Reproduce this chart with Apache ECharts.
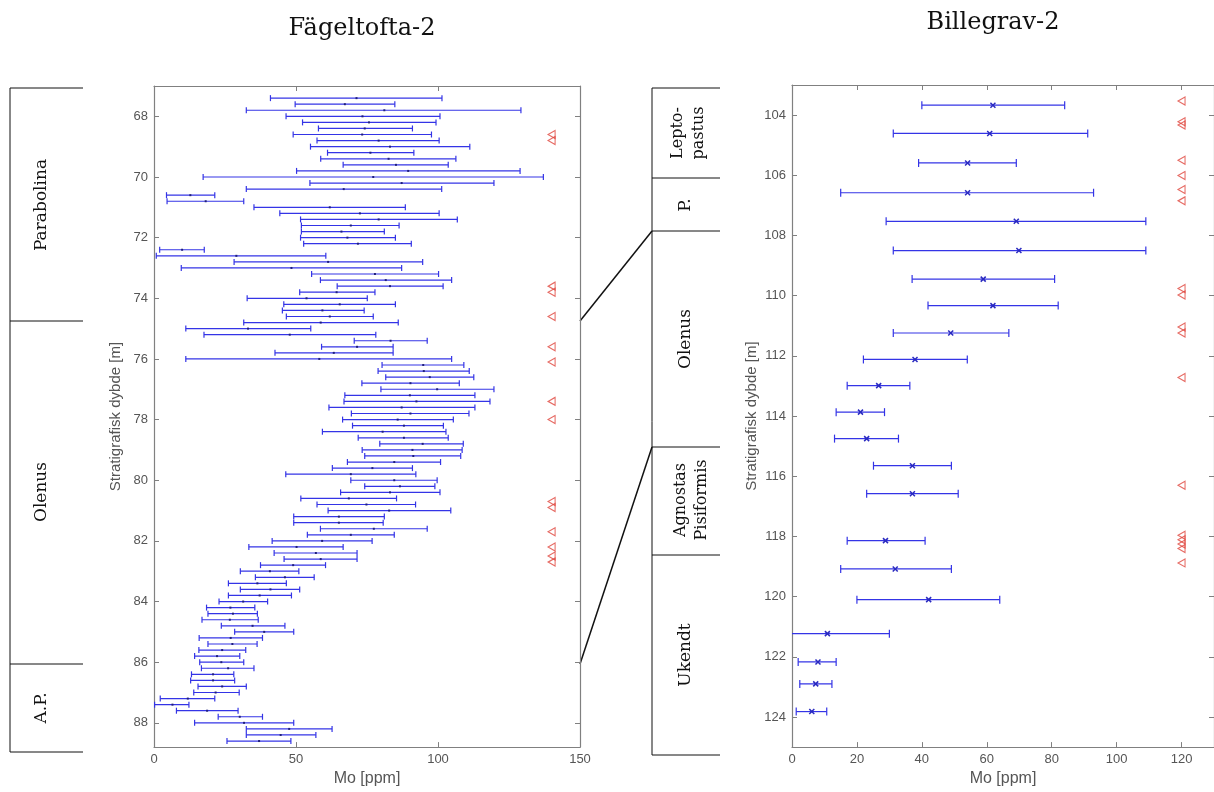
<!DOCTYPE html>
<html>
<head>
<meta charset="utf-8">
<title>Mo profiles</title>
<script src="https://cdn.jsdelivr.net/npm/echarts@6/dist/echarts.min.js"></script>
<style>
html, body { margin: 0; padding: 0; background: #fff; }
#main { width: 1214px; height: 792px; }
</style>
</head>
<body>
<div id="main"></div>
<script>
// Fägeltofta-2: depth [m], Mo low / mid / high [ppm]
var fDepth = [67.4, 67.6, 67.8, 68.0, 68.2, 68.4, 68.6, 68.8, 69.0, 69.2, 69.4, 69.6, 69.8, 70.0, 70.2, 70.4, 70.6, 70.8,
    71.0, 71.2, 71.4, 71.6, 71.8, 72.0, 72.2, 72.4, 72.6, 72.8, 73.0, 73.2, 73.4, 73.6, 73.8, 74.0, 74.2, 74.4, 74.6, 74.8,
    75.0, 75.2, 75.4, 75.6, 75.8, 76.0, 76.2, 76.4, 76.6, 76.8, 77.0, 77.2, 77.4, 77.6, 77.8, 78.0, 78.2, 78.4, 78.6, 78.8,
    79.0, 79.2, 79.4, 79.6, 79.8, 80.0, 80.2, 80.4, 80.6, 80.8, 81.0, 81.2, 81.4, 81.6, 81.8, 82.0, 82.2, 82.4, 82.6, 82.8,
    83.0, 83.2, 83.4, 83.6, 83.8, 84.0, 84.2, 84.4, 84.6, 84.8, 85.0, 85.2, 85.4, 85.6, 85.8, 86.0, 86.2, 86.4, 86.6, 86.8,
    87.0, 87.2, 87.4, 87.6, 87.8, 88.0, 88.2, 88.4, 88.6];
var fLow = [41.0, 49.7, 32.5, 46.5, 52.3, 57.9, 49.0, 57.4, 55.1, 61.1, 58.7, 66.6, 50.2, 17.3, 54.9, 32.5, 4.4, 4.6,
    35.2, 44.3, 51.6, 51.9, 51.9, 51.6, 52.7, 2.0, 0.8, 28.2, 9.6, 55.5, 58.6, 64.5, 51.3, 32.8, 45.7, 45.2, 46.6, 31.6,
    11.2, 17.6, 70.5, 59.0, 42.6, 11.2, 80.3, 78.9, 81.6, 73.2, 79.9, 67.2, 66.9, 61.6, 69.5, 66.4, 69.9, 59.3, 71.9, 79.5,
    73.3, 74.2, 68.1, 62.8, 46.4, 69.3, 74.2, 65.7, 51.7, 57.4, 61.3, 49.2, 49.2, 58.6, 54.0, 41.6, 33.4, 42.3, 45.8, 37.5,
    30.4, 35.7, 26.2, 30.4, 26.2, 22.9, 18.5, 19.0, 16.9, 23.7, 28.4, 15.9, 19.0, 15.8, 14.3, 16.1, 16.7, 13.2, 12.9, 15.5,
    14.0, 2.2, 0.2, 7.9, 22.6, 14.3, 32.5, 32.5, 25.7];
var fMid = [71.3, 67.2, 81.1, 73.4, 75.7, 74.2, 73.3, 79.1, 83.1, 76.2, 82.6, 85.2, 89.5, 77.2, 87.2, 66.8, 12.8, 18.2,
    61.9, 72.5, 79.1, 69.3, 66.0, 68.1, 71.8, 9.9, 29.0, 61.3, 48.4, 77.8, 81.6, 83.1, 64.3, 53.7, 65.4, 59.3, 61.9, 58.7,
    33.1, 47.8, 83.3, 71.5, 63.3, 58.2, 94.8, 95.0, 97.1, 90.3, 99.7, 90.1, 92.4, 87.2, 90.3, 85.8, 88.0, 80.5, 88.0, 94.6,
    91.0, 91.3, 84.6, 76.9, 69.3, 84.6, 86.6, 83.1, 68.6, 74.8, 82.8, 65.1, 65.1, 77.4, 69.3, 59.2, 50.2, 57.0, 58.7, 49.0,
    40.8, 46.1, 36.4, 41.0, 37.2, 31.4, 26.9, 27.8, 26.7, 34.7, 38.8, 27.0, 27.6, 24.0, 22.2, 23.7, 26.1, 20.8, 20.8, 24.0,
    21.7, 11.9, 6.5, 18.7, 30.2, 31.7, 47.6, 44.6, 37.0];
var fHigh = [101.4, 84.8, 129.2, 100.7, 99.3, 91.0, 97.7, 100.4, 111.2, 91.5, 106.3, 103.6, 128.9, 137.1, 119.7, 101.3, 21.4, 31.6,
    88.5, 100.4, 106.8, 86.3, 81.1, 85.0, 90.6, 17.7, 60.5, 94.6, 87.2, 100.2, 104.8, 101.8, 77.8, 75.1, 85.0, 74.0, 77.2, 86.0,
    55.2, 78.1, 96.2, 84.2, 84.2, 104.8, 109.1, 111.0, 112.6, 107.5, 119.7, 113.0, 118.3, 113.0, 110.9, 105.4, 101.9, 102.8, 103.6, 108.9,
    108.5, 108.0, 100.9, 91.0, 92.2, 99.7, 98.9, 100.7, 85.4, 92.1, 104.5, 81.1, 80.7, 96.2, 84.6, 76.8, 66.6, 71.5, 71.5, 60.4,
    51.0, 56.4, 46.6, 51.3, 48.4, 40.0, 35.5, 36.4, 36.7, 46.1, 49.2, 38.2, 36.3, 32.3, 30.2, 31.6, 35.2, 28.1, 28.4, 32.5,
    30.0, 21.4, 12.3, 29.6, 38.2, 49.2, 62.7, 57.0, 48.2];
var fFlagX = 140;
var fFlagDepth = [68.6, 68.8, 73.6, 73.8, 74.6, 75.6, 76.1, 77.4, 78.0, 80.7, 80.9, 81.7, 82.2, 82.5, 82.7];

// Billegrav-2
var bDepth = [103.67, 104.61, 105.59, 106.58, 107.53, 108.50, 109.45, 110.33, 111.24, 112.12, 112.99,
    113.87, 114.75, 115.65, 116.58, 118.14, 119.08, 120.10, 121.23, 122.17, 122.90, 123.82];
var bLow = [40.0, 31.2, 39.0, 15.0, 29.0, 31.2, 37.0, 41.9, 31.2, 22.0, 17.0,
    13.6, 13.1, 25.1, 23.0, 17.0, 15.0, 20.0, -8.0, 1.9, 2.4, 1.3];
var bMid = [61.9, 60.9, 54.1, 54.1, 69.1, 69.9, 58.9, 61.9, 48.9, 37.9, 26.7,
    21.1, 23.0, 37.1, 37.1, 28.8, 31.8, 42.1, 10.9, 8.0, 7.3, 6.1];
var bHigh = [84.0, 91.1, 69.1, 92.9, 109.0, 109.0, 80.9, 82.0, 66.8, 54.0, 36.3,
    28.5, 32.8, 49.1, 51.2, 41.0, 49.1, 64.0, 30.0, 13.6, 12.3, 10.7];
var bFlagX = 120;
var bFlagDepth = [103.53, 104.22, 104.33, 105.50, 106.01, 106.47, 106.85, 109.76, 109.98, 111.04, 111.24,
    112.72, 116.30, 117.96, 118.11, 118.25, 118.40, 118.88];

// tick labels
var fYTicks = [68, 70, 72, 74, 76, 78, 80, 82, 84, 86, 88];
var fXTicks = [0, 50, 100, 150];
var bYTicks = [104, 106, 108, 110, 112, 114, 116, 118, 120, 122, 124];
var bXTicks = [0, 20, 40, 60, 80, 100, 120];

var blue = '#3434e6';
var frame = '#808080';
var labelFont = 'Liberation Sans, Arial, sans-serif';
var serif = 'DejaVu Serif, serif';

var chart = echarts.init(document.getElementById('main'));

function rows(depth, low, mid, high) {
    var out = [];
    for (var i = 0; i < depth.length; i++) {
        out.push([low[i], high[i], mid[i], depth[i]]);
    }
    return out;
}

function flags(x, depth) {
    return depth.map(function (d) { return [x, d]; });
}

/* error bar: line + caps + centre mark */
function errorBar(capH, mark) {
    return function (params, api) {
        var lo = api.coord([api.value(0), api.value(3)]);
        var hi = api.coord([api.value(1), api.value(3)]);
        var md = api.coord([api.value(2), api.value(3)]);
        var st = { stroke: blue, lineWidth: 1.2, fill: null };
        var kids = [
            { type: 'line', shape: { x1: lo[0], y1: lo[1], x2: hi[0], y2: hi[1] }, style: st },
            { type: 'line', shape: { x1: lo[0], y1: lo[1] - capH, x2: lo[0], y2: lo[1] + capH }, style: st },
            { type: 'line', shape: { x1: hi[0], y1: hi[1] - capH, x2: hi[0], y2: hi[1] + capH }, style: st }
        ];
        if (mark == 'x') {
            var s = 2.5;
            var mk = { stroke: '#2a2ac0', lineWidth: 1.5 };
            kids.push({ type: 'line', shape: { x1: md[0] - s, y1: md[1] - s, x2: md[0] + s, y2: md[1] + s }, style: mk });
            kids.push({ type: 'line', shape: { x1: md[0] - s, y1: md[1] + s, x2: md[0] + s, y2: md[1] - s }, style: mk });
        } else {
            kids.push({ type: 'rect', shape: { x: md[0] - 1, y: md[1] - 1, width: 2, height: 2 }, style: { fill: '#20207a' } });
        }
        return { type: 'group', children: kids };
    };
}

function xAx(grid, min, max, ticks, pos, name) {
    return {
        type: 'value', gridIndex: grid, position: pos, min: min, max: max,
        name: name, nameLocation: 'middle', nameGap: 21,
        nameTextStyle: { color: '#555', fontSize: 16, fontFamily: labelFont },
        axisLine: { show: true, onZero: false, lineStyle: { color: frame, width: 1.2 } },
        axisTick: { show: true, inside: true, length: 5, customValues: ticks, lineStyle: { color: frame } },
        axisLabel: { show: pos == 'bottom', customValues: ticks, color: '#555', fontSize: 13, fontFamily: labelFont, margin: 6 },
        splitLine: { show: false }
    };
}

function yAx(grid, min, max, ticks, pos, name, gap) {
    return {
        type: 'value', gridIndex: grid, position: pos, min: min, max: max, inverse: true,
        name: name, nameLocation: 'middle', nameGap: gap, nameRotate: 90,
        nameTextStyle: { color: '#555', fontSize: 15, fontFamily: labelFont },
        axisLine: { show: true, onZero: false, lineStyle: { color: frame, width: 1.2 } },
        axisTick: { show: true, inside: true, length: 5, customValues: ticks, lineStyle: { color: frame } },
        axisLabel: { show: pos == 'left', customValues: ticks, color: '#555', fontSize: 13, fontFamily: labelFont, margin: 6 },
        splitLine: { show: false }
    };
}

function hline(x1, x2, y) {
    return { type: 'line', shape: { x1: x1, y1: y, x2: x2, y2: y }, style: { stroke: '#111', lineWidth: 1 } };
}
function vline(x, y1, y2) {
    return { type: 'line', shape: { x1: x, y1: y1, x2: x, y2: y2 }, style: { stroke: '#111', lineWidth: 1 } };
}
function sline(x1, y1, x2, y2) {
    return { type: 'line', shape: { x1: x1, y1: y1, x2: x2, y2: y2 }, style: { stroke: '#111', lineWidth: 1.5 } };
}
function vtext(txt, x, y, size) {
    return {
        type: 'text', x: x, y: y, rotation: Math.PI / 2,
        style: {
            text: txt, font: (size || 17) + 'px ' + serif, fill: '#111',
            textAlign: 'center', textVerticalAlign: 'middle', lineHeight: 21
        }
    };
}

var option = {
    animation: false,
    backgroundColor: '#fff',
    grid: [
        { left: 154, top: 86, width: 426, height: 668 },
        { left: 792, top: 85, width: 424, height: 668 }
    ],
    xAxis: [
        xAx(0, 0, 150, fXTicks, 'bottom', 'Mo [ppm]'),
        xAx(0, 0, 150, fXTicks, 'top', ''),
        xAx(1, 0, 130, bXTicks, 'bottom', 'Mo [ppm]'),
        xAx(1, 0, 130, bXTicks, 'top', '')
    ],
    yAxis: [
        yAx(0, 67, 88.8, fYTicks, 'left', 'Stratigrafisk dybde [m]', 31),
        yAx(0, 67, 88.8, fYTicks, 'right', '', 10),
        yAx(1, 103, 125, bYTicks, 'left', 'Stratigrafisk dybde [m]', 33),
        yAx(1, 103, 125, bYTicks, 'right', '', 10)
    ],
    series: [
        {
            type: 'custom', xAxisIndex: 0, yAxisIndex: 0, clip: true,
            renderItem: errorBar(3, 'dot'), data: rows(fDepth, fLow, fMid, fHigh)
        },
        {
            type: 'scatter', xAxisIndex: 0, yAxisIndex: 0,
            symbol: 'path://M10,0L0,5L10,10Z', symbolSize: [7, 8],
            itemStyle: { color: 'rgba(255,255,255,0)', borderColor: '#e0453c', borderWidth: 1.1 },
            data: flags(fFlagX, fFlagDepth)
        },
        {
            type: 'custom', xAxisIndex: 2, yAxisIndex: 2, clip: true,
            renderItem: errorBar(4, 'x'), data: rows(bDepth, bLow, bMid, bHigh)
        },
        {
            type: 'scatter', xAxisIndex: 2, yAxisIndex: 2,
            symbol: 'path://M10,0L0,5L10,10Z', symbolSize: [7, 8],
            itemStyle: { color: 'rgba(255,255,255,0)', borderColor: '#e0453c', borderWidth: 1.1 },
            data: flags(bFlagX, bFlagDepth)
        }
    ],
    graphic: [
        // titles
        { type: 'text', x: 362, y: 29, style: { text: 'Fägeltofta-2', font: '24px ' + serif, fill: '#111', textAlign: 'center', textVerticalAlign: 'middle' } },
        { type: 'text', x: 993, y: 23, style: { text: 'Billegrav-2', font: '24px ' + serif, fill: '#111', textAlign: 'center', textVerticalAlign: 'middle' } },

        // Fägeltofta column
        vline(10, 88, 752),
        hline(10, 83, 88), hline(10, 83, 321), hline(10, 83, 664), hline(10, 83, 752),
        vtext('Parabolina', 42, 205),
        vtext('Olenus', 42, 492),
        vtext('A.P.', 42, 708),

        // Billegrav column
        vline(652, 88, 755),
        hline(652, 720, 88), hline(652, 720, 178), hline(652, 720, 231),
        hline(652, 720, 447), hline(652, 720, 555), hline(652, 720, 755),
        vtext('Lepto-\npastus', 688, 133, 16),
        vtext('P.', 686, 205),
        vtext('Olenus', 686, 339),
        vtext('Agnostas\nPisiformis', 691, 500, 16),
        vtext('Ukendt', 686, 655),

        // correlation lines
        sline(580, 321, 652, 231),
        sline(580, 664, 652, 447)
    ]
};

chart.setOption(option);
</script>
</body>
</html>
